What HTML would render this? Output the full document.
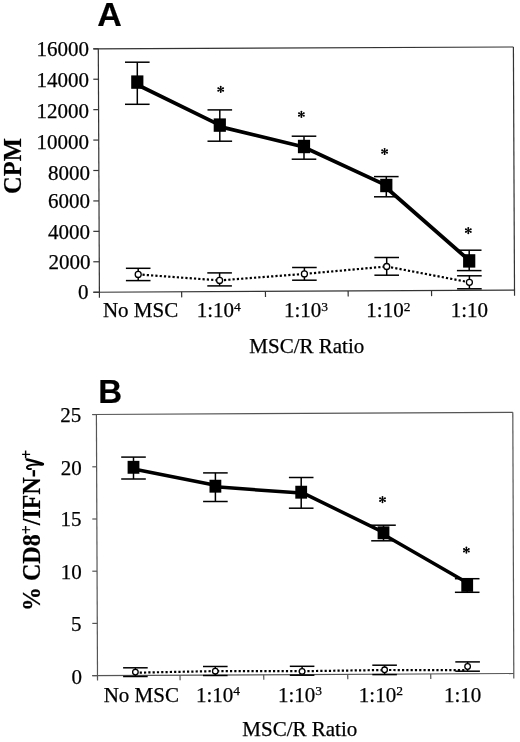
<!DOCTYPE html>
<html><head><meta charset="utf-8"><title>Figure</title>
<style>
html,body{margin:0;padding:0;background:#fff;}
body{width:520px;height:742px;overflow:hidden;font-family:"Liberation Serif",serif;}
svg{display:block;will-change:transform;}
text{stroke:#000;stroke-width:0.25px;}
text[font-weight="bold"]{stroke-width:0.2px;}
</style></head>
<body>
<svg width="520" height="742" viewBox="0 0 520 742">
<rect width="520" height="742" fill="#fff"/>
<text x="97.30" y="26.00" font-family="Liberation Sans" font-size="34" font-weight="bold" text-anchor="start" >A</text>
<line x1="98.30" y1="48.80" x2="99.43" y2="297.80" stroke="#333" stroke-width="1.2" />
<line x1="513.40" y1="47.00" x2="514.53" y2="295.70" stroke="#333" stroke-width="1.2" />
<line x1="93.30" y1="48.82" x2="513.40" y2="47.00" stroke="#333" stroke-width="1.2" />
<line x1="93.30" y1="292.23" x2="514.50" y2="290.10" stroke="#333" stroke-width="1.2" />
<line x1="93.30" y1="292.20" x2="99.40" y2="292.20" stroke="#333" stroke-width="1.2" />
<line x1="93.30" y1="261.77" x2="99.26" y2="261.77" stroke="#333" stroke-width="1.2" />
<line x1="93.30" y1="231.35" x2="99.12" y2="231.35" stroke="#333" stroke-width="1.2" />
<line x1="93.30" y1="200.93" x2="98.99" y2="200.93" stroke="#333" stroke-width="1.2" />
<line x1="93.30" y1="170.50" x2="98.85" y2="170.50" stroke="#333" stroke-width="1.2" />
<line x1="93.30" y1="140.07" x2="98.71" y2="140.07" stroke="#333" stroke-width="1.2" />
<line x1="93.30" y1="109.65" x2="98.58" y2="109.65" stroke="#333" stroke-width="1.2" />
<line x1="93.30" y1="79.23" x2="98.44" y2="79.23" stroke="#333" stroke-width="1.2" />
<line x1="93.30" y1="48.80" x2="98.30" y2="48.80" stroke="#333" stroke-width="1.2" />
<line x1="181.60" y1="291.78" x2="181.71" y2="297.38" stroke="#333" stroke-width="1.2" />
<line x1="265.40" y1="291.36" x2="265.51" y2="296.96" stroke="#333" stroke-width="1.2" />
<line x1="348.10" y1="290.94" x2="348.21" y2="296.54" stroke="#333" stroke-width="1.2" />
<line x1="431.50" y1="290.52" x2="431.61" y2="296.12" stroke="#333" stroke-width="1.2" />
<text x="89.00" y="56.45" font-family="Liberation Serif" font-size="21" font-weight="normal" text-anchor="end" >16000</text>
<text x="89.00" y="87.00" font-family="Liberation Serif" font-size="21" font-weight="normal" text-anchor="end" >14000</text>
<text x="89.00" y="118.10" font-family="Liberation Serif" font-size="21" font-weight="normal" text-anchor="end" >12000</text>
<text x="89.00" y="149.10" font-family="Liberation Serif" font-size="21" font-weight="normal" text-anchor="end" >10000</text>
<text x="90.10" y="179.50" font-family="Liberation Serif" font-size="21" font-weight="normal" text-anchor="end" >8000</text>
<text x="90.10" y="207.80" font-family="Liberation Serif" font-size="21" font-weight="normal" text-anchor="end" >6000</text>
<text x="90.10" y="238.70" font-family="Liberation Serif" font-size="21" font-weight="normal" text-anchor="end" >4000</text>
<text x="90.40" y="269.40" font-family="Liberation Serif" font-size="21" font-weight="normal" text-anchor="end" >2000</text>
<text x="88.60" y="298.60" font-family="Liberation Serif" font-size="21" font-weight="normal" text-anchor="end" >0</text>
<text transform="translate(21.4,166) rotate(-90)" font-family="Liberation Serif" font-size="24.5" font-weight="bold" text-anchor="middle">CPM</text>
<text x="140.60" y="317.20" font-family="Liberation Serif" font-size="21" font-weight="normal" text-anchor="middle" >No MSC</text>
<text x="218.80" y="317.20" font-family="Liberation Serif" font-size="21" text-anchor="middle">1:10<tspan font-size="13.5" dy="-6.6">4</tspan></text>
<text x="306.00" y="317.20" font-family="Liberation Serif" font-size="21" text-anchor="middle">1:10<tspan font-size="13.5" dy="-6.6">3</tspan></text>
<text x="388.40" y="317.20" font-family="Liberation Serif" font-size="21" text-anchor="middle">1:10<tspan font-size="13.5" dy="-6.6">2</tspan></text>
<text x="469.40" y="317.20" font-family="Liberation Serif" font-size="21" font-weight="normal" text-anchor="middle" >1:10</text>
<text x="306.80" y="353.10" font-family="Liberation Serif" font-size="21" font-weight="normal" text-anchor="middle" >MSC/R Ratio</text>
<line x1="138.20" y1="268.30" x2="138.20" y2="280.60" stroke="#000" stroke-width="1.5" />
<line x1="125.90" y1="268.30" x2="150.50" y2="268.30" stroke="#000" stroke-width="1.5" />
<line x1="125.90" y1="280.60" x2="150.50" y2="280.60" stroke="#000" stroke-width="1.5" />
<line x1="219.60" y1="272.90" x2="219.60" y2="285.90" stroke="#000" stroke-width="1.5" />
<line x1="207.30" y1="272.90" x2="231.90" y2="272.90" stroke="#000" stroke-width="1.5" />
<line x1="207.30" y1="285.90" x2="231.90" y2="285.90" stroke="#000" stroke-width="1.5" />
<line x1="304.40" y1="267.50" x2="304.40" y2="280.20" stroke="#000" stroke-width="1.5" />
<line x1="292.10" y1="267.50" x2="316.70" y2="267.50" stroke="#000" stroke-width="1.5" />
<line x1="292.10" y1="280.20" x2="316.70" y2="280.20" stroke="#000" stroke-width="1.5" />
<line x1="386.70" y1="257.50" x2="386.70" y2="275.20" stroke="#000" stroke-width="1.5" />
<line x1="374.40" y1="257.50" x2="399.00" y2="257.50" stroke="#000" stroke-width="1.5" />
<line x1="374.40" y1="275.20" x2="399.00" y2="275.20" stroke="#000" stroke-width="1.5" />
<line x1="469.40" y1="275.80" x2="469.40" y2="288.80" stroke="#000" stroke-width="1.5" />
<line x1="457.10" y1="275.80" x2="481.70" y2="275.80" stroke="#000" stroke-width="1.5" />
<line x1="457.10" y1="288.80" x2="481.70" y2="288.80" stroke="#000" stroke-width="1.5" />
<polyline points="138.20,274.40 219.60,280.40 304.40,273.90 386.70,266.50 469.40,282.30" fill="none" stroke="#000" stroke-width="2.2" stroke-linejoin="round" stroke-dasharray="2.2 2.1"/>
<circle cx="138.20" cy="274.40" r="3.0" fill="#fff" stroke="#000" stroke-width="1.3"/>
<circle cx="219.60" cy="280.40" r="3.0" fill="#fff" stroke="#000" stroke-width="1.3"/>
<circle cx="304.40" cy="273.90" r="3.0" fill="#fff" stroke="#000" stroke-width="1.3"/>
<circle cx="386.70" cy="266.50" r="3.0" fill="#fff" stroke="#000" stroke-width="1.3"/>
<circle cx="469.40" cy="282.30" r="3.0" fill="#fff" stroke="#000" stroke-width="1.3"/>
<line x1="137.30" y1="62.20" x2="137.30" y2="104.30" stroke="#000" stroke-width="1.5" />
<line x1="125.00" y1="62.20" x2="149.60" y2="62.20" stroke="#000" stroke-width="1.5" />
<line x1="125.00" y1="104.30" x2="149.60" y2="104.30" stroke="#000" stroke-width="1.5" />
<line x1="219.80" y1="109.90" x2="219.80" y2="141.20" stroke="#000" stroke-width="1.5" />
<line x1="207.50" y1="109.90" x2="232.10" y2="109.90" stroke="#000" stroke-width="1.5" />
<line x1="207.50" y1="141.20" x2="232.10" y2="141.20" stroke="#000" stroke-width="1.5" />
<line x1="304.00" y1="136.20" x2="304.00" y2="159.20" stroke="#000" stroke-width="1.5" />
<line x1="291.70" y1="136.20" x2="316.30" y2="136.20" stroke="#000" stroke-width="1.5" />
<line x1="291.70" y1="159.20" x2="316.30" y2="159.20" stroke="#000" stroke-width="1.5" />
<line x1="386.30" y1="176.60" x2="386.30" y2="196.80" stroke="#000" stroke-width="1.5" />
<line x1="374.00" y1="176.60" x2="398.60" y2="176.60" stroke="#000" stroke-width="1.5" />
<line x1="374.00" y1="196.80" x2="398.60" y2="196.80" stroke="#000" stroke-width="1.5" />
<line x1="469.20" y1="250.20" x2="469.20" y2="270.60" stroke="#000" stroke-width="1.5" />
<line x1="456.90" y1="250.20" x2="481.50" y2="250.20" stroke="#000" stroke-width="1.5" />
<line x1="456.90" y1="270.60" x2="481.50" y2="270.60" stroke="#000" stroke-width="1.5" />
<line x1="137.30" y1="84.70" x2="219.80" y2="125.10" stroke="#000" stroke-width="3.8" stroke-linecap="round"/>
<line x1="219.80" y1="126.60" x2="304.00" y2="147.00" stroke="#000" stroke-width="3.8" stroke-linecap="round"/>
<line x1="304.00" y1="147.20" x2="386.30" y2="185.40" stroke="#000" stroke-width="3.8" stroke-linecap="round"/>
<line x1="386.30" y1="187.70" x2="469.20" y2="260.40" stroke="#000" stroke-width="3.8" stroke-linecap="round"/>
<rect x="131.20" y="75.40" width="12.2" height="13.4" fill="#000"/>
<rect x="213.70" y="118.40" width="12.2" height="13.4" fill="#000"/>
<rect x="297.90" y="139.80" width="12.2" height="13.4" fill="#000"/>
<rect x="380.20" y="178.80" width="12.2" height="13.4" fill="#000"/>
<rect x="463.10" y="254.20" width="12.2" height="13.4" fill="#000"/>
<line x1="220.70" y1="89.40" x2="220.70" y2="92.05" stroke="#000" stroke-width="1.15"/><circle cx="220.70" cy="92.05" r="0.95" fill="#000"/><line x1="220.70" y1="89.40" x2="218.22" y2="90.73" stroke="#000" stroke-width="1.15"/><circle cx="218.22" cy="90.73" r="0.95" fill="#000"/><line x1="220.70" y1="89.40" x2="218.22" y2="88.08" stroke="#000" stroke-width="1.15"/><circle cx="218.22" cy="88.08" r="0.95" fill="#000"/><line x1="220.70" y1="89.40" x2="220.70" y2="86.75" stroke="#000" stroke-width="1.15"/><circle cx="220.70" cy="86.75" r="0.95" fill="#000"/><line x1="220.70" y1="89.40" x2="223.18" y2="88.08" stroke="#000" stroke-width="1.15"/><circle cx="223.18" cy="88.08" r="0.95" fill="#000"/><line x1="220.70" y1="89.40" x2="223.18" y2="90.73" stroke="#000" stroke-width="1.15"/><circle cx="223.18" cy="90.73" r="0.95" fill="#000"/>
<line x1="301.40" y1="114.40" x2="301.40" y2="117.05" stroke="#000" stroke-width="1.15"/><circle cx="301.40" cy="117.05" r="0.95" fill="#000"/><line x1="301.40" y1="114.40" x2="298.92" y2="115.73" stroke="#000" stroke-width="1.15"/><circle cx="298.92" cy="115.73" r="0.95" fill="#000"/><line x1="301.40" y1="114.40" x2="298.92" y2="113.08" stroke="#000" stroke-width="1.15"/><circle cx="298.92" cy="113.08" r="0.95" fill="#000"/><line x1="301.40" y1="114.40" x2="301.40" y2="111.75" stroke="#000" stroke-width="1.15"/><circle cx="301.40" cy="111.75" r="0.95" fill="#000"/><line x1="301.40" y1="114.40" x2="303.88" y2="113.08" stroke="#000" stroke-width="1.15"/><circle cx="303.88" cy="113.08" r="0.95" fill="#000"/><line x1="301.40" y1="114.40" x2="303.88" y2="115.73" stroke="#000" stroke-width="1.15"/><circle cx="303.88" cy="115.73" r="0.95" fill="#000"/>
<line x1="384.60" y1="151.50" x2="384.60" y2="154.15" stroke="#000" stroke-width="1.15"/><circle cx="384.60" cy="154.15" r="0.95" fill="#000"/><line x1="384.60" y1="151.50" x2="382.12" y2="152.82" stroke="#000" stroke-width="1.15"/><circle cx="382.12" cy="152.82" r="0.95" fill="#000"/><line x1="384.60" y1="151.50" x2="382.12" y2="150.18" stroke="#000" stroke-width="1.15"/><circle cx="382.12" cy="150.18" r="0.95" fill="#000"/><line x1="384.60" y1="151.50" x2="384.60" y2="148.85" stroke="#000" stroke-width="1.15"/><circle cx="384.60" cy="148.85" r="0.95" fill="#000"/><line x1="384.60" y1="151.50" x2="387.08" y2="150.18" stroke="#000" stroke-width="1.15"/><circle cx="387.08" cy="150.18" r="0.95" fill="#000"/><line x1="384.60" y1="151.50" x2="387.08" y2="152.82" stroke="#000" stroke-width="1.15"/><circle cx="387.08" cy="152.82" r="0.95" fill="#000"/>
<line x1="468.30" y1="230.60" x2="468.30" y2="233.25" stroke="#000" stroke-width="1.15"/><circle cx="468.30" cy="233.25" r="0.95" fill="#000"/><line x1="468.30" y1="230.60" x2="465.82" y2="231.92" stroke="#000" stroke-width="1.15"/><circle cx="465.82" cy="231.92" r="0.95" fill="#000"/><line x1="468.30" y1="230.60" x2="465.82" y2="229.28" stroke="#000" stroke-width="1.15"/><circle cx="465.82" cy="229.28" r="0.95" fill="#000"/><line x1="468.30" y1="230.60" x2="468.30" y2="227.95" stroke="#000" stroke-width="1.15"/><circle cx="468.30" cy="227.95" r="0.95" fill="#000"/><line x1="468.30" y1="230.60" x2="470.78" y2="229.28" stroke="#000" stroke-width="1.15"/><circle cx="470.78" cy="229.28" r="0.95" fill="#000"/><line x1="468.30" y1="230.60" x2="470.78" y2="231.92" stroke="#000" stroke-width="1.15"/><circle cx="470.78" cy="231.92" r="0.95" fill="#000"/>
<text x="98.20" y="403.00" font-family="Liberation Sans" font-size="33" font-weight="bold" text-anchor="start" >B</text>
<line x1="96.40" y1="414.50" x2="97.52" y2="680.60" stroke="#555" stroke-width="1.2" />
<line x1="512.80" y1="412.30" x2="513.82" y2="678.50" stroke="#555" stroke-width="1.2" />
<line x1="92.30" y1="414.52" x2="512.80" y2="412.30" stroke="#555" stroke-width="1.2" />
<line x1="92.30" y1="675.63" x2="513.80" y2="673.50" stroke="#555" stroke-width="1.2" />
<line x1="92.30" y1="675.60" x2="97.50" y2="675.60" stroke="#555" stroke-width="1.2" />
<line x1="92.30" y1="623.40" x2="97.28" y2="623.40" stroke="#555" stroke-width="1.2" />
<line x1="92.30" y1="571.20" x2="97.06" y2="571.20" stroke="#555" stroke-width="1.2" />
<line x1="92.30" y1="519.00" x2="96.84" y2="519.00" stroke="#555" stroke-width="1.2" />
<line x1="92.30" y1="466.80" x2="96.62" y2="466.80" stroke="#555" stroke-width="1.2" />
<line x1="92.30" y1="414.60" x2="96.40" y2="414.60" stroke="#555" stroke-width="1.2" />
<line x1="180.00" y1="675.18" x2="180.10" y2="680.18" stroke="#555" stroke-width="1.2" />
<line x1="263.70" y1="674.76" x2="263.80" y2="679.76" stroke="#555" stroke-width="1.2" />
<line x1="347.70" y1="674.34" x2="347.80" y2="679.34" stroke="#555" stroke-width="1.2" />
<line x1="430.70" y1="673.92" x2="430.80" y2="678.92" stroke="#555" stroke-width="1.2" />
<text x="81.30" y="422.20" font-family="Liberation Serif" font-size="21" font-weight="normal" text-anchor="end" >25</text>
<text x="81.80" y="474.80" font-family="Liberation Serif" font-size="21" font-weight="normal" text-anchor="end" >20</text>
<text x="81.50" y="526.10" font-family="Liberation Serif" font-size="21" font-weight="normal" text-anchor="end" >15</text>
<text x="81.80" y="579.30" font-family="Liberation Serif" font-size="21" font-weight="normal" text-anchor="end" >10</text>
<text x="81.60" y="630.90" font-family="Liberation Serif" font-size="21" font-weight="normal" text-anchor="end" >5</text>
<text x="82.00" y="683.60" font-family="Liberation Serif" font-size="21" font-weight="normal" text-anchor="end" >0</text>
<text transform="translate(40.3,611.0) rotate(-90) scale(1,1.08)" font-family="Liberation Serif" font-size="24" font-weight="bold" text-anchor="start">% CD8<tspan font-size="16" dy="-7.65">+</tspan><tspan dy="7.65">/IFN-</tspan></text>
<path d="M26.9,459.5 C30.8,460.1 36.8,462.1 42.8,464.0" fill="none" stroke="#000" stroke-width="2.7" stroke-linecap="round"/>
<path d="M31.0,469.0 C28.2,469.4 26.4,468.4 27.0,466.8 C27.8,465.2 33,464.2 42.8,464.2" fill="none" stroke="#000" stroke-width="1.9" stroke-linecap="round"/>
<ellipse cx="41.2" cy="464.1" rx="2.4" ry="1.6" fill="#000"/>
<text transform="translate(32.4,459.0) rotate(-90)" font-family="Liberation Serif" font-size="16" font-weight="bold" text-anchor="start">+</text>
<text x="141.35" y="701.70" font-family="Liberation Serif" font-size="21" font-weight="normal" text-anchor="middle" >No MSC</text>
<text x="218.00" y="701.70" font-family="Liberation Serif" font-size="21" text-anchor="middle">1:10<tspan font-size="13.5" dy="-6.6">4</tspan></text>
<text x="300.00" y="701.70" font-family="Liberation Serif" font-size="21" text-anchor="middle">1:10<tspan font-size="13.5" dy="-6.6">3</tspan></text>
<text x="380.90" y="701.70" font-family="Liberation Serif" font-size="21" text-anchor="middle">1:10<tspan font-size="13.5" dy="-6.6">2</tspan></text>
<text x="462.60" y="701.70" font-family="Liberation Serif" font-size="21" font-weight="normal" text-anchor="middle" >1:10</text>
<text x="299.80" y="736.40" font-family="Liberation Serif" font-size="21" font-weight="normal" text-anchor="middle" >MSC/R Ratio</text>
<line x1="135.40" y1="667.80" x2="135.40" y2="676.50" stroke="#000" stroke-width="1.5" />
<line x1="123.10" y1="667.80" x2="147.70" y2="667.80" stroke="#000" stroke-width="1.5" />
<line x1="123.10" y1="676.50" x2="147.70" y2="676.50" stroke="#000" stroke-width="1.5" />
<line x1="215.30" y1="666.50" x2="215.30" y2="675.50" stroke="#000" stroke-width="1.5" />
<line x1="203.00" y1="666.50" x2="227.60" y2="666.50" stroke="#000" stroke-width="1.5" />
<line x1="203.00" y1="675.50" x2="227.60" y2="675.50" stroke="#000" stroke-width="1.5" />
<line x1="302.10" y1="666.30" x2="302.10" y2="675.20" stroke="#000" stroke-width="1.5" />
<line x1="289.80" y1="666.30" x2="314.40" y2="666.30" stroke="#000" stroke-width="1.5" />
<line x1="289.80" y1="675.20" x2="314.40" y2="675.20" stroke="#000" stroke-width="1.5" />
<line x1="384.60" y1="665.20" x2="384.60" y2="674.60" stroke="#000" stroke-width="1.5" />
<line x1="372.30" y1="665.20" x2="396.90" y2="665.20" stroke="#000" stroke-width="1.5" />
<line x1="372.30" y1="674.60" x2="396.90" y2="674.60" stroke="#000" stroke-width="1.5" />
<line x1="467.60" y1="661.90" x2="467.60" y2="671.20" stroke="#000" stroke-width="1.5" />
<line x1="455.30" y1="661.90" x2="479.90" y2="661.90" stroke="#000" stroke-width="1.5" />
<line x1="455.30" y1="671.20" x2="479.90" y2="671.20" stroke="#000" stroke-width="1.5" />
<polyline points="135.40,672.70 215.30,671.10 302.10,671.20 384.60,670.00 464.50,670.20 467.60,668.00" fill="none" stroke="#000" stroke-width="2.2" stroke-linejoin="round" stroke-dasharray="2.2 2.1"/>
<circle cx="135.40" cy="672.10" r="2.8" fill="#fff" stroke="#000" stroke-width="1.3"/>
<circle cx="215.30" cy="671.20" r="2.8" fill="#fff" stroke="#000" stroke-width="1.3"/>
<circle cx="302.10" cy="671.40" r="2.8" fill="#fff" stroke="#000" stroke-width="1.3"/>
<circle cx="384.60" cy="669.80" r="2.8" fill="#fff" stroke="#000" stroke-width="1.3"/>
<circle cx="467.60" cy="666.50" r="2.8" fill="#fff" stroke="#000" stroke-width="1.3"/>
<line x1="133.50" y1="457.10" x2="133.50" y2="479.00" stroke="#000" stroke-width="1.5" />
<line x1="121.20" y1="457.10" x2="145.80" y2="457.10" stroke="#000" stroke-width="1.5" />
<line x1="121.20" y1="479.00" x2="145.80" y2="479.00" stroke="#000" stroke-width="1.5" />
<line x1="215.40" y1="472.90" x2="215.40" y2="501.50" stroke="#000" stroke-width="1.5" />
<line x1="203.10" y1="472.90" x2="227.70" y2="472.90" stroke="#000" stroke-width="1.5" />
<line x1="203.10" y1="501.50" x2="227.70" y2="501.50" stroke="#000" stroke-width="1.5" />
<line x1="301.20" y1="477.50" x2="301.20" y2="508.20" stroke="#000" stroke-width="1.5" />
<line x1="288.90" y1="477.50" x2="313.50" y2="477.50" stroke="#000" stroke-width="1.5" />
<line x1="288.90" y1="508.20" x2="313.50" y2="508.20" stroke="#000" stroke-width="1.5" />
<line x1="383.50" y1="525.20" x2="383.50" y2="540.80" stroke="#000" stroke-width="1.5" />
<line x1="371.20" y1="525.20" x2="395.80" y2="525.20" stroke="#000" stroke-width="1.5" />
<line x1="371.20" y1="540.80" x2="395.80" y2="540.80" stroke="#000" stroke-width="1.5" />
<line x1="467.20" y1="578.70" x2="467.20" y2="592.30" stroke="#000" stroke-width="1.5" />
<line x1="454.90" y1="578.70" x2="479.50" y2="578.70" stroke="#000" stroke-width="1.5" />
<line x1="454.90" y1="592.30" x2="479.50" y2="592.30" stroke="#000" stroke-width="1.5" />
<line x1="133.50" y1="469.00" x2="215.40" y2="485.20" stroke="#000" stroke-width="3.5" stroke-linecap="round"/>
<line x1="215.40" y1="486.80" x2="301.20" y2="493.10" stroke="#000" stroke-width="3.5" stroke-linecap="round"/>
<line x1="301.20" y1="492.10" x2="383.50" y2="532.40" stroke="#000" stroke-width="3.5" stroke-linecap="round"/>
<line x1="383.50" y1="534.60" x2="467.20" y2="582.80" stroke="#000" stroke-width="3.5" stroke-linecap="round"/>
<rect x="127.60" y="460.85" width="11.8" height="12.9" fill="#000"/>
<rect x="209.50" y="479.75" width="11.8" height="12.9" fill="#000"/>
<rect x="295.30" y="485.75" width="11.8" height="12.9" fill="#000"/>
<rect x="377.60" y="526.35" width="11.8" height="12.9" fill="#000"/>
<rect x="461.30" y="578.95" width="11.8" height="12.9" fill="#000"/>
<line x1="382.50" y1="499.60" x2="382.50" y2="502.25" stroke="#000" stroke-width="1.15"/><circle cx="382.50" cy="502.25" r="0.95" fill="#000"/><line x1="382.50" y1="499.60" x2="380.02" y2="500.93" stroke="#000" stroke-width="1.15"/><circle cx="380.02" cy="500.93" r="0.95" fill="#000"/><line x1="382.50" y1="499.60" x2="380.02" y2="498.28" stroke="#000" stroke-width="1.15"/><circle cx="380.02" cy="498.28" r="0.95" fill="#000"/><line x1="382.50" y1="499.60" x2="382.50" y2="496.95" stroke="#000" stroke-width="1.15"/><circle cx="382.50" cy="496.95" r="0.95" fill="#000"/><line x1="382.50" y1="499.60" x2="384.98" y2="498.28" stroke="#000" stroke-width="1.15"/><circle cx="384.98" cy="498.28" r="0.95" fill="#000"/><line x1="382.50" y1="499.60" x2="384.98" y2="500.93" stroke="#000" stroke-width="1.15"/><circle cx="384.98" cy="500.93" r="0.95" fill="#000"/>
<line x1="466.40" y1="550.20" x2="466.40" y2="552.85" stroke="#000" stroke-width="1.15"/><circle cx="466.40" cy="552.85" r="0.95" fill="#000"/><line x1="466.40" y1="550.20" x2="463.92" y2="551.53" stroke="#000" stroke-width="1.15"/><circle cx="463.92" cy="551.53" r="0.95" fill="#000"/><line x1="466.40" y1="550.20" x2="463.92" y2="548.88" stroke="#000" stroke-width="1.15"/><circle cx="463.92" cy="548.88" r="0.95" fill="#000"/><line x1="466.40" y1="550.20" x2="466.40" y2="547.55" stroke="#000" stroke-width="1.15"/><circle cx="466.40" cy="547.55" r="0.95" fill="#000"/><line x1="466.40" y1="550.20" x2="468.88" y2="548.88" stroke="#000" stroke-width="1.15"/><circle cx="468.88" cy="548.88" r="0.95" fill="#000"/><line x1="466.40" y1="550.20" x2="468.88" y2="551.53" stroke="#000" stroke-width="1.15"/><circle cx="468.88" cy="551.53" r="0.95" fill="#000"/>
</svg>
</body></html>
